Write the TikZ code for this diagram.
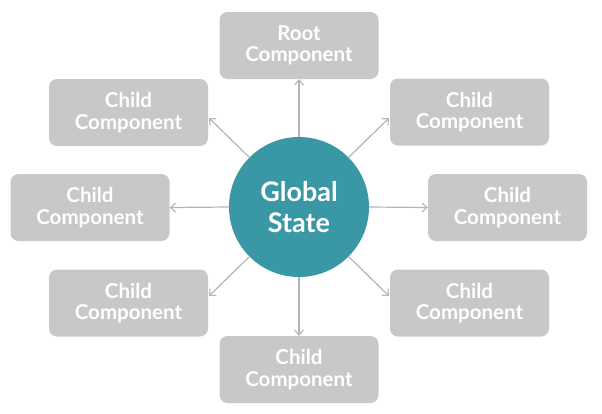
\documentclass[tikz,border=0pt]{standalone}
\usepackage{fontspec}
\setmainfont{Lato}
\usetikzlibrary{arrows.meta}
\definecolor{boxgray}{RGB}{200,200,200}
\definecolor{teal}{RGB}{58,151,165}
\definecolor{linegray}{RGB}{180,180,180}
\begin{document}
\begin{tikzpicture}[x=1pt,y=-1pt,
  comp/.style={fill=boxgray, rounded corners=8pt, minimum width=159pt, minimum height=67pt,
    text=white, align=center, font=\fontsize{20.5}{21.5}\selectfont\bfseries, inner sep=0pt},
  hub/.style={circle, fill=teal, minimum size=140pt, inner sep=0pt, text=white, align=center,
    font=\fontsize{27}{31}\selectfont\bfseries},
  link/.style={draw=linegray, line width=1.2pt, -{Straight Barb[length=5pt,width=9pt,line width=1.1pt]}}]
\useasboundingbox (0,0) rectangle (602,413);
\node[hub] (g) at (299,207) {Global\\State};
\node[comp] (root) at (299,45.5) {Root\\Component};
\node[comp] (tl) at (128.5,112.5) {Child\\Component};
\node[comp] (tr) at (469.5,112) {Child\\Component};
\node[comp] (l) at (90,207.5) {Child\\Component};
\node[comp] (r) at (507.5,207.5) {Child\\Component};
\node[comp] (bl) at (128.5,303) {Child\\Component};
\node[comp] (br) at (469.5,303) {Child\\Component};
\node[comp] (b) at (299,369.5) {Child\\Component};
\coordinate (etl) at (209,118);
\coordinate (etr) at (389,118);
\coordinate (ebl) at (209,296);
\coordinate (ebr) at (389,296);
\draw[link] (g.north) -- (root.south);
\draw[link] (g.south) -- (b.north);
\draw[link] (g.west) -- (l.east);
\draw[link] (g.east) -- (r.west);
\draw[link] (g.135) -- (etl);
\draw[link] (g.45) -- (etr);
\draw[link] (g.225) -- (ebl);
\draw[link] (g.-45) -- (ebr);
\end{tikzpicture}
\end{document}
